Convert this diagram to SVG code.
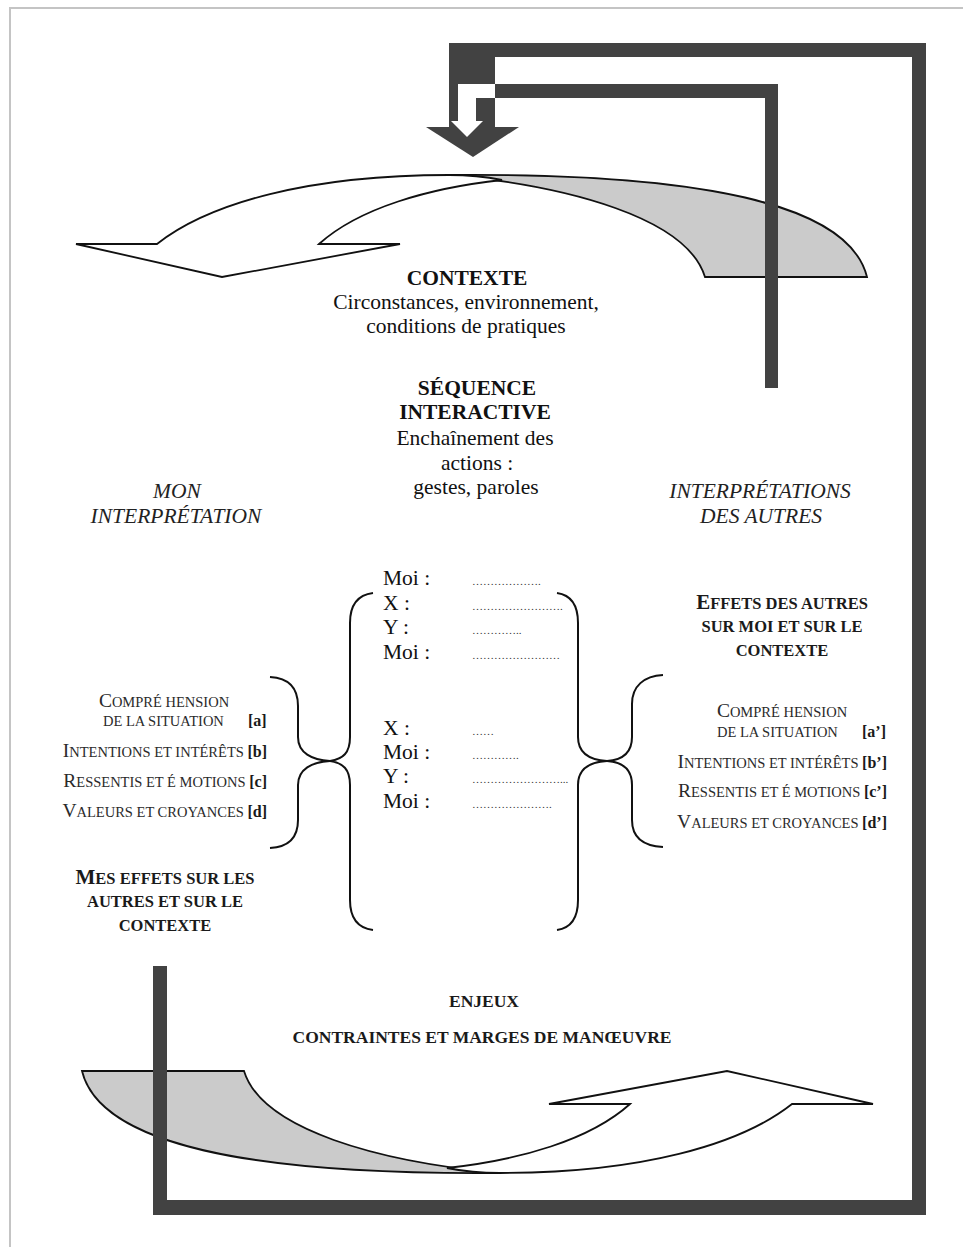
<svg xmlns="http://www.w3.org/2000/svg" xmlns:xlink="http://www.w3.org/1999/xlink" width="963" height="1247" viewBox="0 0 963 1247">
<style>
.bar{fill:#424242}
.brace{fill:none;stroke:#111;stroke-width:2}
text{font-family:"Liberation Serif","Times New Roman",serif;fill:#111}
.c{text-anchor:middle}
.e{text-anchor:end}
.r{font-size:21.5px}
.bd{font-weight:bold}
.it{font-style:italic;fill:#222}
.sc{fill:#2a2a2a;font-size:14.5px}
.scb{font-size:19.5px}
.hb{font-weight:bold;font-size:16.5px;fill:#1a1a1a}
.hbb{font-size:21px}
.dots{font-size:11px;fill:#333}
.tag{font-weight:bold;font-size:16px;fill:#1a1a1a}
.cap{font-weight:bold;font-size:17.5px;fill:#1a1a1a}
</style>
<defs>
<g id="bandpair">
<path fill="#cbcbcb" stroke="#111" stroke-width="1.8" d="M82,1071 L244,1071 C262,1130 380,1162 500,1173 C250,1175 100,1145 82,1071 Z"/>
<path fill="#ffffff" stroke="#111" stroke-width="1.8" d="M447,1168 C520,1160 590,1140 630,1104 L549,1104 L727,1071 L873,1104 L792,1104 C740,1145 640,1173 500,1173 C480,1173 462,1171 447,1168 Z"/>
</g>
</defs>
<rect id="page" x="10" y="8" width="1000" height="1300" fill="#fff" stroke="#c4c4c4" stroke-width="2"/>

<g id="bands-top"><use xlink:href="#bandpair" href="#bandpair" transform="rotate(180 474.5 674)"/></g>
<g id="bands-bottom"><use xlink:href="#bandpair" href="#bandpair"/></g>

<g id="connectors">
<rect class="bar" x="449" y="43" width="46" height="84"/>
<polygon class="bar" points="426,127 519,127 473,157"/>
<rect class="bar" x="449" y="43" width="477" height="14"/>
<rect class="bar" x="912" y="43" width="14" height="1172"/>
<rect class="bar" x="153" y="1200" width="773" height="15"/>
<rect class="bar" x="153" y="966" width="14" height="249"/>
<rect class="bar" x="495" y="84" width="283" height="14"/>
<rect class="bar" x="765" y="84" width="13" height="304"/>
<polygon fill="#fff" points="495,84 458,84 458,121 451,121 467,137 483,121 476,121 476,98 495,98"/>
</g>

<g id="contexte">
<text class="r bd c" x="467" y="285">CONTEXTE</text>
<text class="r c" x="466" y="309">Circonstances, environnement,</text>
<text class="r c" x="466" y="333">conditions de pratiques</text>
</g>

<g id="sequence">
<text class="r bd c" x="477" y="395">SÉQUENCE</text>
<text class="r bd c" x="475" y="419">INTERACTIVE</text>
<text class="r c" x="475" y="445">Enchaînement des</text>
<text class="r c" x="477" y="470">actions :</text>
<text class="r c" x="476" y="494">gestes, paroles</text>
</g>

<g id="mon-interpretation">
<text class="r it c" x="177" y="498">MON</text>
<text class="r it c" x="176" y="523">INTERPRÉTATION</text>
</g>

<g id="interpretations-autres">
<text class="r it c" x="760" y="498">INTERPRÉTATIONS</text>
<text class="r it c" x="761" y="523">DES AUTRES</text>
</g>

<g id="dialogue">
<text class="r" x="383" y="585">Moi :</text>
<text class="r" x="383" y="610">X :</text>
<text class="r" x="383" y="634">Y :</text>
<text class="r" x="383" y="659">Moi :</text>
<text class="r" x="383" y="735">X :</text>
<text class="r" x="383" y="759">Moi :</text>
<text class="r" x="383" y="783">Y :</text>
<text class="r" x="383" y="808">Moi :</text>
<text class="dots" x="472" y="585">&#8230;&#8230;&#8230;&#8230;&#8230;&#8230;.</text>
<text class="dots" x="472" y="610">&#8230;&#8230;&#8230;&#8230;&#8230;&#8230;&#8230;&#8230;.</text>
<text class="dots" x="472" y="634">&#8230;&#8230;&#8230;&#8230;..</text>
<text class="dots" x="472" y="659">&#8230;&#8230;&#8230;&#8230;&#8230;&#8230;&#8230;&#8230;</text>
<text class="dots" x="472" y="735">&#8230;&#8230;</text>
<text class="dots" x="472" y="759">&#8230;&#8230;&#8230;&#8230;.</text>
<text class="dots" x="472" y="783">&#8230;&#8230;&#8230;&#8230;&#8230;&#8230;&#8230;&#8230;...</text>
<text class="dots" x="472" y="808">&#8230;&#8230;&#8230;&#8230;&#8230;&#8230;&#8230;.</text>
</g>

<g id="braces">
<path class="brace" d="M373,593 C357,595 350,605 350,623 L350,737 C350,753 343,759 330,761 C343,763 350,769 350,785 L350,900 C350,918 357,928 373,930"/>
<path class="brace" d="M270,677 C289,678 298,688 298,706 L298,737 C298,753 312,760 330,761 C312,762 298,769 298,785 L298,820 C298,838 289,847 270,848"/>
<path class="brace" d="M557,593 C571,595 578,605 578,623 L578,737 C578,753 590,760 607,761 C590,762 578,769 578,785 L578,900 C578,918 571,928 557,930"/>
<path class="brace" d="M663,675 C644,676 632,686 632,704 L632,737 C632,753 622,760 607,761 C622,762 632,769 632,785 L632,820 C632,838 644,846 663,847"/>
</g>

<g id="left-block">
<text class="sc c" x="164" y="707"><tspan class="scb">C</tspan>OMPRÉ HENSION</text>
<text class="sc" x="103" y="726">DE LA SITUATION</text>
<text class="tag" x="248" y="726">[a]</text>
<text class="sc e" x="267" y="757"><tspan class="scb">I</tspan>NTENTIONS ET INTÉRÊTS <tspan class="tag">[b]</tspan></text>
<text class="sc e" x="267" y="787"><tspan class="scb">R</tspan>ESSENTIS ET É MOTIONS <tspan class="tag">[c]</tspan></text>
<text class="sc e" x="267" y="817"><tspan class="scb">V</tspan>ALEURS ET CROYANCES <tspan class="tag">[d]</tspan></text>
<text class="hb c" x="165" y="884"><tspan class="hbb">M</tspan>ES EFFETS SUR LES</text>
<text class="hb c" x="165" y="907">AUTRES ET SUR LE</text>
<text class="hb c" x="165" y="931">CONTEXTE</text>
</g>

<g id="right-block">
<text class="hb c" x="782" y="609"><tspan class="hbb">E</tspan>FFETS DES AUTRES</text>
<text class="hb c" x="782" y="632">SUR MOI ET SUR LE</text>
<text class="hb c" x="782" y="656">CONTEXTE</text>
<text class="sc c" x="782" y="717"><tspan class="scb">C</tspan>OMPRÉ HENSION</text>
<text class="sc" x="717" y="737">DE LA SITUATION</text>
<text class="tag" x="862" y="737">[a’]</text>
<text class="sc e" x="887" y="768"><tspan class="scb">I</tspan>NTENTIONS ET INTÉRÊTS <tspan class="tag">[b’]</tspan></text>
<text class="sc e" x="887" y="797"><tspan class="scb">R</tspan>ESSENTIS ET É MOTIONS <tspan class="tag">[c’]</tspan></text>
<text class="sc e" x="887" y="828"><tspan class="scb">V</tspan>ALEURS ET CROYANCES <tspan class="tag">[d’]</tspan></text>
</g>

<g id="enjeux">
<text class="cap c" x="484" y="1007">ENJEUX</text>
<text class="cap c" x="482" y="1043">CONTRAINTES ET MARGES DE MANŒUVRE</text>
</g>
</svg>
